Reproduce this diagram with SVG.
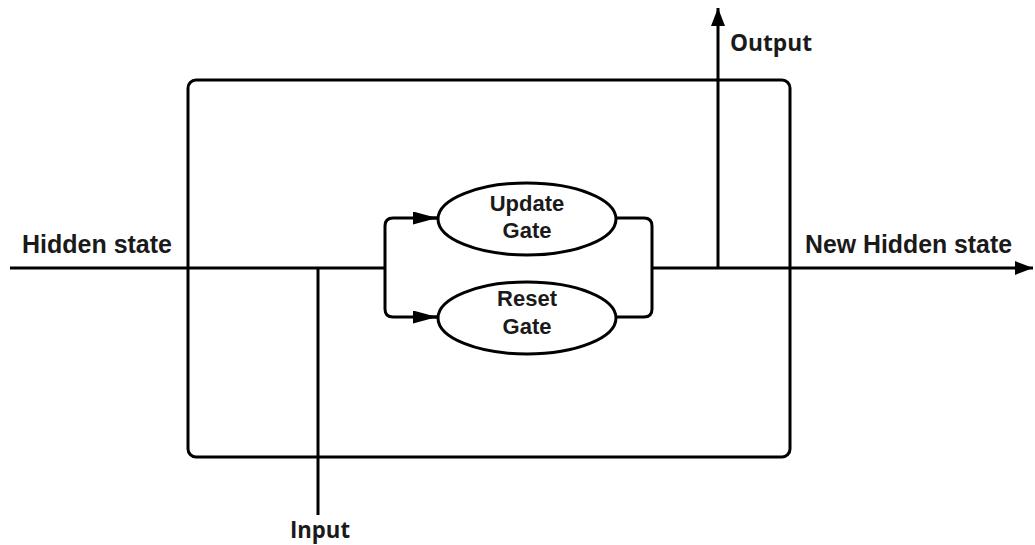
<svg xmlns="http://www.w3.org/2000/svg" width="1035" height="545" viewBox="0 0 1035 545">
<style>
.ln{fill:none;stroke:#000;stroke-width:3;stroke-linejoin:round}
.t{font-family:"Liberation Sans",Arial,sans-serif;font-weight:bold;fill:#1a1a1a}
.o{font-family:"Open Sans","Liberation Sans",sans-serif;font-weight:bold;fill:#1a1a1a}
</style>
<defs>
<marker id="ahb" viewBox="0 0 18 14" refX="18" refY="7" markerWidth="18" markerHeight="14" markerUnits="userSpaceOnUse" orient="auto">
<path d="M0,0 L18,7 L0,14 Z" fill="#000"/>
</marker>
<marker id="ahg" viewBox="0 0 24 13" refX="24" refY="6.5" markerWidth="24" markerHeight="13" markerUnits="userSpaceOnUse" orient="auto">
<path d="M0,0 L24,6.5 L0,13 Z" fill="#000"/>
</marker>
</defs>
<rect width="1035" height="545" fill="#fff"/>
<g id="cell">
<rect x="188" y="80" width="602" height="377" rx="8" ry="8" class="ln"/>
</g>
<g id="connectors">
<path class="ln" d="M10,268 H385"/>
<path class="ln" d="M652,268 H1033" marker-end="url(#ahb)"/>
<path class="ln" d="M318,268 V515"/>
<path class="ln" d="M718,268 V8" marker-end="url(#ahb)"/>
<path class="ln" d="M437,218 H393 Q385,218 385,226 V309 Q385,317 393,317 H437"/>
<path class="ln" d="M413,218 H437" marker-end="url(#ahg)"/>
<path class="ln" d="M413,317 H437" marker-end="url(#ahg)"/>
<path class="ln" d="M615,218 H644 Q652,218 652,226 V309 Q652,317 644,317 H615"/>
</g>
<g id="update-gate">
<ellipse cx="527" cy="219" rx="89" ry="36" fill="#fff" stroke="#000" stroke-width="3"/>
<text class="t" x="527" y="211" font-size="22" text-anchor="middle">Update</text>
<text class="t" x="527" y="238" font-size="22" text-anchor="middle">Gate</text>
</g>
<g id="reset-gate">
<ellipse cx="527" cy="318" rx="89" ry="36" fill="#fff" stroke="#000" stroke-width="3"/>
<text class="t" x="527" y="306" font-size="22" text-anchor="middle">Reset</text>
<text class="t" x="527" y="334" font-size="22" text-anchor="middle">Gate</text>
</g>
<g id="labels">
<text class="t" x="22" y="253" font-size="25" textLength="150" lengthAdjust="spacingAndGlyphs">Hidden state</text>
<text class="t" x="805" y="253" font-size="25" textLength="207" lengthAdjust="spacingAndGlyphs">New Hidden state</text>
<text class="o" x="730" y="51" font-size="24" textLength="82" lengthAdjust="spacingAndGlyphs">Output</text>
<text class="o" x="290" y="538" font-size="24" textLength="60" lengthAdjust="spacingAndGlyphs">Input</text>
</g>
</svg>
